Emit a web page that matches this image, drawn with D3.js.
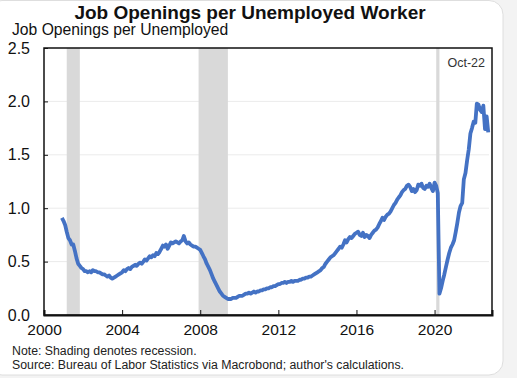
<!DOCTYPE html>
<html>
<head>
<meta charset="utf-8">
<script src="https://cdn.jsdelivr.net/npm/d3@7"></script>
<style>
  body { margin: 0; background: #f3f3f3; }
  svg { display: block; font-family: "Liberation Sans", Arial, sans-serif; }
</style>
</head>
<body>
<div id="wrapper"></div>
<script>
// monthly job openings / unemployed, starting Dec 2000
const startYear = 2000;
const startMonth = 11; // 0-based, December
const ratio = [
    0.91,
    0.88, 0.84, 0.78, 0.72, 0.70, 0.66, 0.66, 0.60, 0.53, 0.48, 0.46, 0.44, // 2001
    0.43, 0.41, 0.41, 0.40, 0.41, 0.40, 0.42, 0.41, 0.41, 0.40, 0.40, 0.39, // 2002
    0.38, 0.38, 0.37, 0.36, 0.37, 0.35, 0.34, 0.35, 0.36, 0.37, 0.38, 0.39, // 2003
    0.40, 0.42, 0.41, 0.43, 0.44, 0.43, 0.45, 0.46, 0.47, 0.46, 0.48, 0.49, // 2004
    0.48, 0.50, 0.52, 0.51, 0.53, 0.55, 0.54, 0.56, 0.55, 0.58, 0.57, 0.59, // 2005
    0.62, 0.65, 0.64, 0.66, 0.62, 0.65, 0.68, 0.67, 0.68, 0.69, 0.68, 0.67, // 2006
    0.69, 0.70, 0.74, 0.69, 0.67, 0.68, 0.66, 0.65, 0.64, 0.64, 0.63, 0.62, // 2007
    0.61, 0.58, 0.55, 0.52, 0.48, 0.45, 0.42, 0.38, 0.34, 0.31, 0.28, 0.25, // 2008
    0.22, 0.20, 0.18, 0.17, 0.16, 0.15, 0.15, 0.15, 0.16, 0.16, 0.16, 0.17, // 2009
    0.18, 0.18, 0.18, 0.19, 0.20, 0.20, 0.21, 0.20, 0.21, 0.22, 0.21, 0.22, // 2010
    0.22, 0.23, 0.23, 0.24, 0.24, 0.25, 0.25, 0.26, 0.26, 0.27, 0.27, 0.28, // 2011
    0.29, 0.29, 0.30, 0.30, 0.31, 0.30, 0.31, 0.31, 0.32, 0.31, 0.32, 0.32, // 2012
    0.32, 0.33, 0.33, 0.34, 0.34, 0.35, 0.35, 0.36, 0.36, 0.37, 0.38, 0.39, // 2013
    0.40, 0.41, 0.42, 0.44, 0.45, 0.48, 0.50, 0.52, 0.54, 0.55, 0.56, 0.58, // 2014
    0.60, 0.62, 0.64, 0.63, 0.66, 0.70, 0.68, 0.71, 0.73, 0.72, 0.74, 0.76, // 2015
    0.77, 0.78, 0.75, 0.74, 0.77, 0.73, 0.75, 0.74, 0.72, 0.75, 0.77, 0.79, // 2016
    0.80, 0.82, 0.85, 0.88, 0.91, 0.89, 0.92, 0.94, 0.95, 0.97, 1.00, 1.03, // 2017
    1.05, 1.08, 1.10, 1.12, 1.15, 1.17, 1.18, 1.21, 1.22, 1.20, 1.16, 1.18, // 2018
    1.15, 1.17, 1.22, 1.21, 1.23, 1.19, 1.18, 1.21, 1.20, 1.23, 1.19, 1.16, // 2019
    1.24, 1.21, 1.14, 0.20, 0.25, 0.32, 0.38, 0.45, 0.52, 0.58, 0.63, 0.66, // 2020
    0.70, 0.78, 0.86, 0.96, 1.02, 1.05, 1.27, 1.33, 1.45, 1.55, 1.70, 1.75, // 2021
    1.81, 1.80, 1.98, 1.97, 1.92, 1.90, 1.96, 1.74, 1.86, 1.71              // 2022
];
// recession start / end (year, month 0-based)
const recessions = [
    [[2001, 2], [2001, 10]],
    [[2007, 11], [2009, 5]],
    [[2020, 1], [2020, 3]]
];
const yTicks = [0, 0.5, 1.0, 1.5, 2.0, 2.5];
const xTicks = [2000, 2004, 2008, 2012, 2016, 2020];
const title = "Job Openings per Unemployed Worker";
const yTitle = "Job Openings per Unemployed";
const lastLabel = "Oct-22";
const notes = ["Note: Shading denotes recession.",
               "Source: Bureau of Labor Statistics via Macrobond; author's calculations."];

const data = ratio.map((v, i) => ({date: new Date(startYear, startMonth + i, 1), value: v}));
const xAccessor = d => d.date;
const yAccessor = d => d.value;

var dimension = {
    width: 517,
    height: 378,
    margin: {top: 48, left: 44, bottom: 63, right: 25}
};
dimension.boundedWidth = dimension.width - dimension.margin.left - dimension.margin.right;
dimension.boundedHeight = dimension.height - dimension.margin.top - dimension.margin.bottom;

const svg = d3.select("#wrapper").append("svg")
    .attr("width", dimension.width)
    .attr("height", dimension.height);

// card background
svg.append("rect")
    .attr("x", -12).attr("y", 0.5)
    .attr("width", 515).attr("height", 374.5)
    .attr("rx", 14)
    .attr("fill", "white")
    .attr("stroke", "#dedede");

svg.append("text")
    .attr("x", 250).attr("y", 18.5)
    .attr("text-anchor", "middle")
    .style("font-size", "19px").style("font-weight", "bold")
    .attr("fill", "#111")
    .text(title);

svg.append("text")
    .attr("x", 12).attr("y", 35)
    .style("font-size", "15.7px")
    .attr("fill", "#111")
    .text(yTitle);

const bounded = svg.append("g")
    .attr("transform", `translate(${dimension.margin.left}, ${dimension.margin.top})`);

const xScaler = d3.scaleTime()
    .domain([new Date(2000, 0, 1), new Date(2022, 11, 10)])
    .range([0, dimension.boundedWidth]);

const yScaler = d3.scaleLinear()
    .domain([0, 2.5])
    .range([dimension.boundedHeight, 0]);

// gridlines
bounded.append("g")
    .selectAll("line")
    .data(yTicks.filter(d => d > 0 && d < 2.5))
    .join("line")
    .attr("x1", 0).attr("x2", dimension.boundedWidth - 3)
    .attr("y1", d => yScaler(d)).attr("y2", d => yScaler(d))
    .attr("stroke", "#ebebeb");

// recession shading
bounded.append("g")
    .selectAll("rect")
    .data(recessions)
    .join("rect")
    .attr("x", d => xScaler(new Date(d[0][0], d[0][1], 1)))
    .attr("width", d => xScaler(new Date(d[1][0], d[1][1], 1)) - xScaler(new Date(d[0][0], d[0][1], 1)))
    .attr("y", 0)
    .attr("height", dimension.boundedHeight)
    .attr("fill", "#d9d9d9");

var lineGenerator = d3.line()
    .x(d => xScaler(xAccessor(d)))
    .y(d => yScaler(yAccessor(d)));

bounded.append("path")
    .attr("d", lineGenerator(data))
    .attr("fill", "none")
    .attr("stroke", "#4472c4")
    .attr("stroke-width", 3.8)
    .attr("stroke-linejoin", "round");

// frame
bounded.append("rect")
    .attr("width", dimension.boundedWidth)
    .attr("height", dimension.boundedHeight)
    .attr("fill", "none")
    .attr("stroke", "#111")
    .attr("stroke-width", 1.5);

var xAxis = d3.axisBottom(xScaler)
    .tickValues(xTicks.map(y => new Date(y, 0, 1)))
    .tickSize(-5)
    .tickPadding(9)
    .tickFormat(d3.timeFormat("%Y"));

const gx = bounded.append("g")
    .attr("transform", `translate(0, ${dimension.boundedHeight})`)
    .call(xAxis);
gx.select(".domain").attr("stroke", "#111").attr("stroke-width", 2);
gx.selectAll(".tick line").attr("stroke", "#111");
gx.selectAll(".tick text")
    .style("font-size", "15.5px")
    .style("font-family", "'Liberation Sans', Arial, sans-serif")
    .attr("fill", "#111");

var yAxis = d3.axisLeft(yScaler)
    .tickValues(yTicks)
    .tickSize(-4)
    .tickPadding(14)
    .tickFormat(d3.format(".1f"));

const gy = bounded.append("g").call(yAxis);
gy.select(".domain").remove();
gy.selectAll(".tick line").attr("stroke", "#111");
gy.selectAll(".tick text")
    .style("font-size", "16px")
    .style("font-family", "'Liberation Sans', Arial, sans-serif")
    .attr("fill", "#111");

bounded.append("text")
    .attr("x", dimension.boundedWidth - 7).attr("y", 19)
    .attr("text-anchor", "end")
    .style("font-size", "12.5px")
    .attr("fill", "#333")
    .text(lastLabel);

svg.append("g")
    .selectAll("text")
    .data(notes)
    .join("text")
    .attr("x", 12)
    .attr("y", (d, i) => 355 + i * 13.5)
    .style("font-size", "12.3px")
    .attr("fill", "#222")
    .text(d => d);
</script>
</body>
</html>
